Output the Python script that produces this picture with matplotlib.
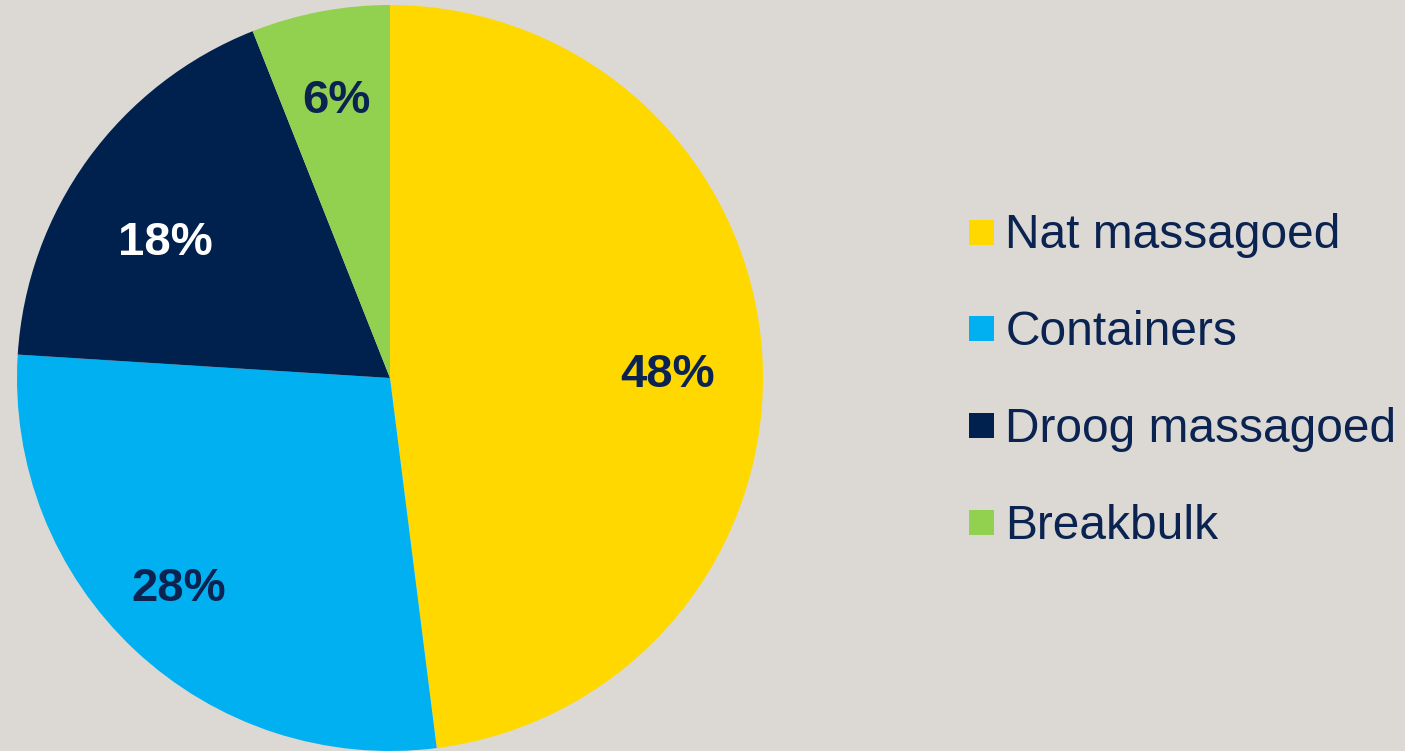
import matplotlib
matplotlib.use('Agg')
import matplotlib.pyplot as plt
import numpy as np
from matplotlib.lines import Line2D

# cargo share by type
categories = ['Nat massagoed', 'Containers', 'Droog massagoed', 'Breakbulk']
shares = [48, 28, 18, 6]
colors = ['#FFD800', '#00B0F0', '#00204E', '#92D050']
label_colors = ['#0B2350', '#0B2350', '#FFFFFF', '#0B2350']
# label placement tweaks: (angle shift in deg, distance from centre)
label_place = [(-2.0, 0.745), (-2.5, 0.79), (4.0, 0.71), (0.0, 0.77)]

bg = '#DCD9D5'
navy = '#0B2350'

plt.rcParams['font.family'] = ['Liberation Sans', 'DejaVu Sans']

W, H = 1405, 751
fig = plt.figure(figsize=(W / 100, H / 100), dpi=100, facecolor=bg)

cx, cy, r = 390, 378, 373
ax = fig.add_axes([(cx - r) / W, (H - cy - r) / H, 2 * r / W, 2 * r / H])
ax.set_facecolor(bg)

wedges, texts, autotexts = ax.pie(shares, colors=colors, startangle=90, counterclock=False,
                                  autopct='%d%%', pctdistance=0.75,
                                  wedgeprops=dict(linewidth=0),
                                  textprops=dict(fontsize=34, fontweight='bold'))
for w, t, c, (dang, dist) in zip(wedges, autotexts, label_colors, label_place):
    mid = np.deg2rad((w.theta1 + w.theta2) / 2 + dang)
    t.set_position((dist * np.cos(mid), dist * np.sin(mid)))
    t.set_va('center_baseline')
    t.set_color(c)
ax.set_xlim(-1, 1)
ax.set_ylim(-1, 1)
ax.set_aspect('equal')
ax.axis('off')

handles = [Line2D([], [], marker='s', linestyle='none', markersize=18,
                  markerfacecolor=c, markeredgewidth=0) for c in colors]
leg = fig.legend(handles, categories, loc='center left',
                 bbox_to_anchor=(943 / W, 1 - 381 / H), frameon=False,
                 fontsize=34.5, labelcolor=navy, handletextpad=0.1,
                 labelspacing=1.08, handlelength=0.8, borderaxespad=0)

fig.savefig('out.png', dpi=100, facecolor=bg)
